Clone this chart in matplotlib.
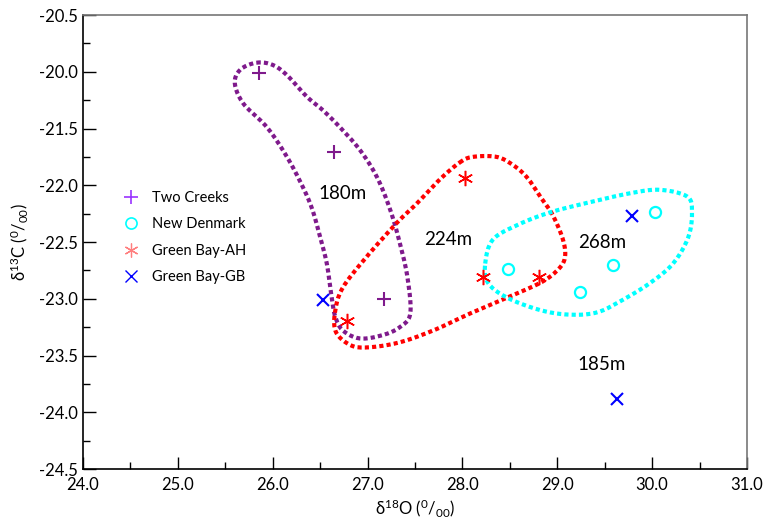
import numpy as np
import matplotlib
matplotlib.use("Agg")
import matplotlib.pyplot as plt
from matplotlib.ticker import FixedLocator, MultipleLocator

plt.rcParams['font.family'] = ['Lato', 'DejaVu Sans']
plt.rcParams['mathtext.fontset'] = 'custom'
plt.rcParams['mathtext.rm'] = 'Lato'
plt.rcParams['mathtext.it'] = 'Lato'

# === Data ===
two_creeks_x = [25.85, 26.65, 27.17]
two_creeks_y = [-21.01, -21.71, -23.00]

new_denmark_x = [28.48, 29.24, 29.59, 30.03]
new_denmark_y = [-22.74, -22.94, -22.70, -22.24]

gb_ah_x = [26.78, 28.03, 28.22, 28.81]
gb_ah_y = [-23.20, -21.94, -22.81, -22.81]

gb_gb_x = [26.53, 29.79, 29.63]
gb_gb_y = [-23.01, -22.27, -23.88]

# outline vertices (hand drawn groups)
purple_x = [25.83, 26.00, 26.15, 26.36, 26.53, 26.71, 26.92, 27.10, 27.24, 27.34, 27.42, 27.45,
            27.34, 27.16, 26.92, 26.74, 26.66, 26.62, 26.57, 26.50, 26.42, 26.32, 26.15, 25.94,
            25.69, 25.60, 25.66]
purple_y = [-20.92, -20.94, -21.03, -21.22, -21.34, -21.49, -21.69, -21.93, -22.22, -22.51, -22.81, -23.13,
            -23.25, -23.32, -23.35, -23.28, -23.16, -22.98, -22.69, -22.46, -22.22, -22.02, -21.75, -21.49,
            -21.28, -21.10, -20.98]

red_x = [27.97, 28.11, 28.36, 28.53, 28.68, 28.82, 28.95, 29.06, 29.08, 29.00, 28.82, 28.47,
         28.08, 27.69, 27.31, 26.95, 26.78, 26.66, 26.66, 26.74, 26.99, 27.31, 27.52, 27.76]
red_y = [-21.80, -21.75, -21.75, -21.82, -21.93, -22.10, -22.26, -22.48, -22.64, -22.75, -22.86, -22.99,
         -23.13, -23.28, -23.39, -23.43, -23.39, -23.28, -23.10, -22.90, -22.63, -22.33, -22.16, -21.95]

cyan_x = [28.24, 28.32, 28.58, 28.92, 29.34, 29.77, 30.08, 30.37, 30.42, 30.38, 30.22, 29.98,
          29.69, 29.42, 29.13, 28.82, 28.47, 28.27]
cyan_y = [-22.69, -22.48, -22.35, -22.24, -22.15, -22.07, -22.04, -22.10, -22.24, -22.46, -22.69, -22.86,
          -23.01, -23.12, -23.14, -23.10, -22.99, -22.86]

group_labels = ["180m", "224m", "268m", "185m"]
group_label_x = [26.74, 27.85, 29.47, 29.47]
group_label_y = [-22.07, -22.48, -22.50, -23.58]

y_ticks = [-24.5, -24.0, -23.5, -23.0, -22.5, -22.0, -21.5, -21.0, -20.5]
y_tick_labels = ["-24.5", "-24.0", "-23.5", "-23.0", "-22.5", "-22.0", "-21.5", "-20.0", "-20.5"]
x_ticks = [24.0, 25.0, 26.0, 27.0, 28.0, 29.0, 30.0, 31.0]


def smooth_closed(xs, ys, n=12):
    # closed Catmull-Rom through the outline vertices
    p = np.column_stack([xs, ys])
    m = len(p)
    out = []
    for i in range(m):
        p0, p1, p2, p3 = p[i - 1], p[i], p[(i + 1) % m], p[(i + 2) % m]
        for t in np.linspace(0, 1, n, endpoint=False):
            t2, t3 = t * t, t * t * t
            out.append(0.5 * ((2 * p1) + (-p0 + p2) * t + (2 * p0 - 5 * p1 + 4 * p2 - p3) * t2
                              + (-p0 + 3 * p1 - 3 * p2 + p3) * t3))
    out.append(out[0])
    out = np.array(out)
    return out[:, 0], out[:, 1]


fig = plt.figure(figsize=(7.66, 5.21), dpi=100)
ax = fig.add_axes([0.1084, 0.0998, 0.8668, 0.8714])

dots = dict(linestyle=(0, (1, 0.75)), linewidth=3.0, dash_capstyle='butt', zorder=2)
for xs, ys, c in [(purple_x, purple_y, '#7f1a8c'), (red_x, red_y, '#ff0000'), (cyan_x, cyan_y, '#00ffff')]:
    sx, sy = smooth_closed(xs, ys)
    ax.plot(sx, sy, color=c, **dots)

ax.plot(two_creeks_x, two_creeks_y, linestyle='none', marker='+', markersize=10, mew=1.5,
        color='#7f1a8c', zorder=3)
ax.plot(new_denmark_x, new_denmark_y, linestyle='none', marker='o', markersize=8, mew=1.6,
        mfc='none', mec='#00ffff', zorder=3)
ax.plot(gb_ah_x, gb_ah_y, linestyle='none', marker=(6, 2, 0), markersize=11, mew=1.1,
        color='#ff0000', zorder=3)
ax.plot(gb_gb_x, gb_gb_y, linestyle='none', marker='x', markersize=9, mew=1.5,
        color='#0000ff', zorder=3)

# legend uses lighter colours, like the original
h1, = ax.plot([], [], linestyle='none', marker='+', markersize=10, mew=1.2, color='#9933ff')
h2, = ax.plot([], [], linestyle='none', marker='o', markersize=8, mew=1.2, mfc='none', mec='#00ffff')
h3, = ax.plot([], [], linestyle='none', marker=(6, 2, 0), markersize=10, mew=0.9, color='#ff7f7f')
h4, = ax.plot([], [], linestyle='none', marker='x', markersize=9, mew=1.0, color='#0000ff')
ax.legend([h1, h2, h3, h4], ["Two Creeks", "New Denmark", "Green Bay-AH", "Green Bay-GB"],
          loc='upper left', bbox_to_anchor=(0.053, 0.625), frameon=False, fontsize=10.5,
          handlelength=1.0, handletextpad=0.9, labelspacing=0.85, borderaxespad=0)

for lab, lx, ly in zip(group_labels, group_label_x, group_label_y):
    ax.text(lx, ly, lab, fontsize=13.5, ha='center', va='center', zorder=4)

ax.set_xlim(24.0, 31.0)
ax.set_ylim(-24.5, -20.5)
ax.xaxis.set_major_locator(FixedLocator(x_ticks))
ax.set_xticklabels([f"{v:.1f}" for v in x_ticks])
ax.xaxis.set_minor_locator(MultipleLocator(0.5))
ax.yaxis.set_major_locator(FixedLocator(y_ticks))
ax.set_yticklabels(y_tick_labels)
ax.yaxis.set_minor_locator(MultipleLocator(0.25))
ax.tick_params(which='major', direction='in', length=9, width=1.0, labelsize=12)
ax.tick_params(axis='x', which='major', pad=6)
ax.tick_params(axis='y', which='major', pad=4)
ax.tick_params(which='minor', direction='in', length=5, width=1.0)
ax.tick_params(top=False, right=False, which='both')

for s in ['left', 'bottom']:
    ax.spines[s].set_color('black')
    ax.spines[s].set_linewidth(1.2)
for s in ['top', 'right']:
    ax.spines[s].set_color('#777777')
    ax.spines[s].set_linewidth(1.2)

ax.set_xlabel(r"δ$^{18}$O ($^{0}$/$_{00}$)", fontsize=12, labelpad=3)
ax.set_ylabel(r"δ$^{13}$C ($^{0}$/$_{00}$)", fontsize=12, labelpad=6)

fig.savefig("out.png", dpi=100)
